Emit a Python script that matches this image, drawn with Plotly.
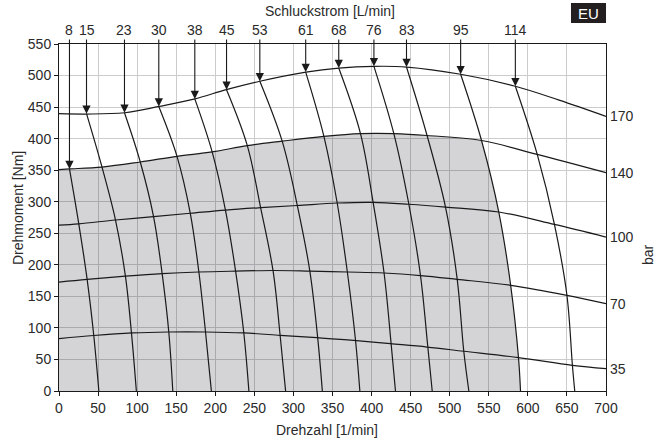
import plotly.graph_objects as go

# ---------------- data ----------------
speed_ticks = list(range(0, 701, 50))
torque_ticks = list(range(0, 551, 50))

# iso-pressure curves (bar): speed [1/min] -> torque [Nm]
bar_labels = [35, 70, 100, 140, 170]
p35_x = [0, 44.5, 93.7, 140.5, 187.5, 236.5, 283, 330, 377, 424, 471, 518, 588, 657, 700]
p35_T = [83, 88, 92, 93.5, 93.5, 92, 88.3, 84.5, 80.3, 75, 69.7, 63, 53, 40.7, 35.5]
p70_x = [0, 36, 85, 132, 179, 226, 275, 321, 369, 416, 462.6, 509.6, 578, 650, 700]
p70_T = [172.7, 177, 182, 186, 188.6, 190, 191, 190, 188.6, 187, 183, 177, 167.5, 151.7, 138.5]
p100_x = [0, 25.3, 72.3, 121, 168, 213, 258, 305, 356, 402, 447.7, 494.6, 562.8, 634, 700]
p100_T = [263, 265, 271, 276.4, 281.7, 286.8, 290.6, 294, 298, 299, 296, 291.6, 283.7, 264, 244]
p140_x = [0, 13.4, 55, 104, 151, 196, 241, 285.6, 339, 385.8, 428.5, 471, 540.7, 612, 700]
p140_T = [351, 352, 355, 363, 372, 379, 389, 396, 403.6, 408, 408, 405, 397, 375, 346]
p170_x = [0, 35, 84, 128, 174, 214, 257, 316, 358, 403, 445, 514, 584, 640, 700]
p170_T = [439.6, 439, 441, 451, 463, 477.6, 491, 505.5, 511.9, 514.6, 513.5, 502, 483, 461, 435.3]

# iso-flow curves (Schluckstrom L/min): top point first, down to torque 0
flow_labels = [8, 15, 23, 30, 38, 45, 53, 61, 68, 76, 83, 95, 114]
f8_x = [13.4, 25.3, 36, 44.5, 51]
f8_T = [352, 265, 177, 88, 0]
f15_x = [35.2, 55, 72.3, 85, 92.8, 99]
f15_T = [439.6, 355, 271, 182, 91, 0]
f23_x = [83.8, 104, 121, 132, 140.5, 145.6]
f23_T = [441, 363, 276.4, 186, 93.5, 0]
f30_x = [127.7, 151, 168, 179, 187.5, 195]
f30_T = [451, 372, 281.7, 188.6, 93.5, 0]
f38_x = [173.8, 196, 213, 226, 236.5, 243]
f38_T = [463, 379, 286.8, 190, 92, 0]
f45_x = [214.4, 241, 258, 274, 283, 290]
f45_T = [477.6, 389, 290.6, 190, 88, 0]
f53_x = [257, 285.6, 305, 321, 331, 337]
f53_T = [491, 396, 294, 190, 85, 0]
f61_x = [315.7, 339, 356, 369, 379.5, 385]
f61_T = [505.5, 403.6, 298, 188.6, 80, 0]
f68_x = [358, 385.8, 402, 416, 425, 430.6]
f68_T = [511.9, 408, 299, 187, 75, 0]
f76_x = [403, 428.5, 447.7, 462.6, 472, 477.6]
f76_T = [514.6, 408, 296, 183, 69.7, 0]
f83_x = [444.7, 471, 494.6, 509.6, 518, 524.5]
f83_T = [513.5, 405, 291.6, 177, 63, 0]
f95_x = [514, 540.7, 562.8, 578, 588, 590.6]
f95_T = [502, 397, 283.7, 167.5, 53, 0]
f114_x = [584, 612, 634, 650, 657, 660]
f114_T = [483, 375, 264, 151.7, 40.7, 0]

pressure_curves = [(p35_x, p35_T), (p70_x, p70_T), (p100_x, p100_T),
                   (p140_x, p140_T), (p170_x, p170_T)]
flow_curves = [(f8_x, f8_T), (f15_x, f15_T), (f23_x, f23_T), (f30_x, f30_T),
               (f38_x, f38_T), (f45_x, f45_T), (f53_x, f53_T), (f61_x, f61_T),
               (f68_x, f68_T), (f76_x, f76_T), (f83_x, f83_T), (f95_x, f95_T),
               (f114_x, f114_T)]

# ---------------- figure ----------------
FONT = "Liberation Sans, Arial, sans-serif"
TXT = "#2a2a2a"
LINE = "#1a1a1a"

fig = go.Figure()

# shaded operating area: below 140 bar curve, left of 95 L/min curve
corner_i = p140_x.index(f95_x[1])
shade_x = [0, 0, p140_x[0]] + p140_x[:corner_i + 1] + [f95_x[1]] + f95_x[2:] + [f95_x[-1]]
shade_y = [0, 0, p140_T[0]] + p140_T[:corner_i + 1] + [f95_T[1]] + f95_T[2:] + [f95_T[-1]]
fig.add_trace(go.Scatter(
    x=shade_x, y=shade_y, mode="lines", fill="toself",
    fillcolor="rgba(10,12,22,0.175)",
    line=dict(width=0, shape="spline", simplify=False),
    hoverinfo="skip", showlegend=False))

for xs, ys in pressure_curves:
    fig.add_trace(go.Scatter(x=xs, y=ys, mode="lines",
                             line=dict(color=LINE, width=1.2, shape="spline", simplify=False),
                             hoverinfo="skip", showlegend=False))
for xs, ys in flow_curves:
    fig.add_trace(go.Scatter(x=xs, y=ys, mode="lines",
                             line=dict(color=LINE, width=1.2, shape="spline", simplify=False),
                             hoverinfo="skip", showlegend=False))

annotations = []
# flow labels with arrows
for lab, (xs, ys) in zip(flow_labels, flow_curves):
    annotations.append(dict(
        x=xs[0], y=ys[0], xref="x", yref="y",
        ax=xs[0], ay=572, axref="x", ayref="y",
        text=str(lab), showarrow=True, arrowhead=2, arrowsize=1.5,
        arrowwidth=1.1, arrowcolor=LINE, standoff=0,
        font=dict(family=FONT, size=14, color=TXT)))

# pressure labels at the right edge
for lab, (xs, ys) in zip(bar_labels, pressure_curves):
    annotations.append(dict(
        x=xs[-1], y=ys[-1], xref="x", yref="y", text=str(lab),
        showarrow=False, xanchor="left", yanchor="middle", xshift=2,
        font=dict(family=FONT, size=14, color=TXT)))

# titles
annotations += [
    dict(x=0.495, y=1.0, xref="paper", yref="paper", yshift=33,
         xanchor="center", yanchor="middle",
         text="Schluckstrom [L/min]", showarrow=False,
         font=dict(family=FONT, size=14, color=TXT)),
    dict(x=0.49, y=0, xref="paper", yref="paper", yshift=-39,
         xanchor="center", yanchor="middle",
         text="Drehzahl [1/min]", showarrow=False,
         font=dict(family=FONT, size=14, color=TXT)),
    dict(x=-0.075, y=0.527, xref="paper", yref="paper", textangle=-90,
         xanchor="center", yanchor="middle",
         text="Drehmoment [Nm]", showarrow=False,
         font=dict(family=FONT, size=14, color=TXT)),
    dict(x=1.077, y=0.392, xref="paper", yref="paper", textangle=-90,
         xanchor="center", yanchor="middle",
         text="bar", showarrow=False,
         font=dict(family=FONT, size=14, color=TXT)),
    dict(x=0.968, y=1.089, xref="paper", yref="paper",
         xanchor="center", yanchor="middle",
         text="EU", showarrow=False,
         font=dict(family=FONT, size=15, color="white")),
]

fig.update_layout(
    width=667, height=443,
    margin=dict(l=59, r=61, t=44, b=52),
    paper_bgcolor="white", plot_bgcolor="white",
    font=dict(family=FONT, size=14, color=TXT),
    showlegend=False,
    annotations=annotations,
    shapes=[dict(type="rect", xref="paper", yref="paper",
                 x0=0.936, x1=1.0, y0=1.0605, y1=1.118,
                 fillcolor="#231f20", line=dict(width=0))],
)
fig.update_xaxes(range=[0, 700], tickvals=speed_ticks, showgrid=True,
                 gridcolor="#cccccc", gridwidth=1, zeroline=False,
                 showline=True, linecolor=LINE, linewidth=1, mirror=True,
                 ticks="outside", ticklen=4, tickcolor=LINE,
                 tickfont=dict(family=FONT, size=14, color=TXT))
fig.update_yaxes(range=[0, 550], tickvals=torque_ticks, showgrid=True,
                 gridcolor="#cccccc", gridwidth=1, zeroline=False,
                 showline=True, linecolor=LINE, linewidth=1, mirror=True,
                 ticks="outside", ticklen=4, tickcolor=LINE,
                 tickfont=dict(family=FONT, size=14, color=TXT))

# remove the default page margin so the figure fills the window
fig.write_html("out.html",
               config={"displayModeBar": False, "staticPlot": True},
               post_script="document.body.style.margin='0px';document.body.style.overflow='hidden';")
